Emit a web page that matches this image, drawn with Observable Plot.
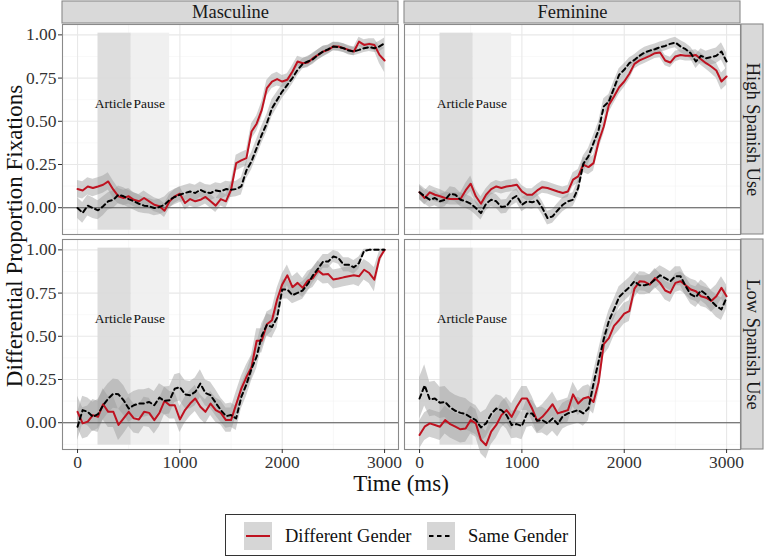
<!DOCTYPE html>
<html><head><meta charset="utf-8">
<script src="https://cdn.jsdelivr.net/npm/d3@7"></script>
<script src="https://cdn.jsdelivr.net/npm/@observablehq/plot@0.6"></script>
<style>
body{margin:0;background:#fff;font-family:"Liberation Serif","Times New Roman",serif;color:#111;}
#wrap{position:relative;width:765px;height:559px;overflow:hidden;}
#wrap svg text{font-family:"Liberation Serif","Times New Roman",serif;}
.ttl{position:absolute;font-size:23px;line-height:1;white-space:nowrap;color:#111;}
#legend{position:absolute;left:225px;top:514px;width:351px;height:42px;border:1px solid #333;box-sizing:border-box;}
#legend .key{position:absolute;top:7px;width:28px;height:28px;}
#legend .lab{position:absolute;top:8px;font-size:18.5px;line-height:26px;white-space:nowrap;color:#111;}
</style></head><body>
<div id="wrap"></div>
<script>
// ---------- data ----------
const genders = ["Masculine", "Feminine"];
const spanishUse = ["High Spanish Use", "Low Spanish Use"];
const groups = ["Different Gender", "Same Gender"];
const xTicks = [0, 1000, 2000, 3000];
const xMinor = [500, 1500, 2500];
const yTicks = [0, 0.25, 0.5, 0.75, 1];
const yMinor = [-0.125, 0.125, 0.375, 0.625, 0.875];
const phaseNames = ["Article", "Pause"];
const phaseStart = [200, 525];
const phaseEnd = [525, 900];
const phaseLabelX = [350, 700];
const phaseLabelY = 0.6;
const phaseYmin = -0.13;
const phaseYmax = 1.01;

const times = [0,50,100,150,200,250,300,350,400,450,500,550,600,650,700,750,800,850,900,950,
1000,1050,1100,1150,1200,1250,1300,1350,1400,1450,1500,1550,1600,1650,1700,1750,1800,1850,1900,1950,
2000,2050,2100,2150,2200,2250,2300,2350,2400,2450,2500,2550,2600,2650,2700,2750,2800,2850,2900,2950,3000];

const mascHighDiff = [0.108,0.100,0.123,0.114,0.123,0.133,0.152,0.104,0.066,0.056,
0.066,0.046,0.037,0.056,0.037,0.017,0.008,-0.017,0.037,0.066,
0.081,0.027,0.050,0.037,0.046,0.062,0.037,0.012,0.050,0.037,
0.104,0.258,0.274,0.287,0.441,0.486,0.566,0.692,0.730,0.744,
0.730,0.740,0.788,0.846,0.836,0.840,0.865,0.884,0.904,0.913,
0.933,0.933,0.923,0.913,0.904,0.961,0.942,0.948,0.942,0.884,0.852];
const mascHighSame = [-0.002,-0.030,0.012,-0.002,-0.015,0.008,0.037,0.046,0.075,0.066,
0.050,0.037,0.023,0.012,0.008,-0.002,0.004,0.017,0.046,0.062,
0.075,0.085,0.094,0.085,0.104,0.089,0.085,0.100,0.094,0.108,
0.104,0.108,0.123,0.216,0.268,0.345,0.422,0.489,0.576,0.624,
0.672,0.711,0.750,0.798,0.832,0.846,0.859,0.884,0.904,0.917,
0.933,0.929,0.923,0.909,0.904,0.913,0.923,0.929,0.923,0.933,0.952];
const femHighDiff = [0.089,0.056,0.089,0.075,0.066,0.056,0.050,0.050,0.050,0.100,
0.139,0.066,0.023,0.075,0.108,0.123,0.114,0.123,0.127,0.133,
0.094,0.075,0.075,0.100,0.119,0.114,0.104,0.094,0.085,0.094,
0.162,0.181,0.249,0.235,0.258,0.383,0.470,0.595,0.644,0.697,
0.730,0.775,0.832,0.852,0.865,0.879,0.894,0.898,0.852,0.840,
0.875,0.884,0.879,0.879,0.884,0.859,0.836,0.817,0.794,0.730,0.759];
const femHighSame = [0.089,0.066,0.046,0.056,0.037,0.046,0.081,0.075,0.046,0.037,
0.023,-0.002,-0.031,0.023,0.046,0.037,0.004,0.008,0.050,0.069,
0.017,0.037,0.031,0.042,-0.002,-0.060,-0.050,-0.015,0.017,0.037,
0.046,0.114,0.254,0.297,0.374,0.451,0.586,0.615,0.692,0.769,
0.798,0.836,0.855,0.879,0.898,0.909,0.917,0.929,0.936,0.948,
0.956,0.933,0.917,0.894,0.846,0.879,0.865,0.871,0.879,0.904,0.846];
const mascLowDiff = [0.063,-0.004,0.006,0.044,0.034,0.107,0.063,0.063,-0.013,0.025,
0.063,0.025,0.019,0.063,0.057,0.015,0.057,0.126,0.101,0.101,
0.019,0.073,0.111,0.140,0.092,0.063,0.111,0.073,0.057,0.015,
0.015,0.107,0.197,0.264,0.321,0.474,0.474,0.570,0.593,0.713,
0.800,0.853,0.784,0.809,0.780,0.822,0.837,0.880,0.857,0.860,
0.828,0.834,0.841,0.847,0.853,0.847,0.885,0.866,0.828,0.952,1.000];
const mascLowSame = [-0.023,0.073,0.063,0.034,0.050,0.101,0.140,0.168,0.164,0.130,
0.082,0.101,0.111,0.111,0.120,0.101,0.145,0.126,0.130,0.197,
0.206,0.164,0.159,0.178,0.226,0.172,0.159,0.115,0.073,0.038,
0.044,0.025,0.149,0.222,0.312,0.382,0.503,0.566,0.554,0.608,
0.771,0.771,0.738,0.751,0.765,0.803,0.853,0.891,0.933,0.933,
0.962,0.952,0.914,0.914,0.899,0.924,0.994,1.000,1.000,1.000,1.000];
const femLowDiff = [-0.071,-0.023,-0.004,-0.013,-0.023,0.015,-0.008,-0.023,-0.038,-0.033,
0.015,-0.004,-0.100,-0.130,-0.052,-0.013,0.044,0.073,0.034,0.092,
0.140,0.140,0.082,0.011,0.034,0.069,0.107,0.054,0.063,0.073,
0.164,0.111,0.140,0.149,0.120,0.235,0.455,0.489,0.560,0.593,
0.631,0.646,0.776,0.818,0.815,0.799,0.837,0.809,0.765,0.751,
0.809,0.818,0.795,0.771,0.761,0.732,0.723,0.704,0.732,0.780,0.732];
const femLowSame = [0.140,0.216,0.134,0.140,0.115,0.120,0.088,0.069,0.057,0.050,
0.031,0.015,-0.027,-0.004,0.050,0.082,0.073,0.044,-0.013,-0.008,
-0.019,0.054,0.054,0.011,0.015,-0.004,0.025,-0.008,0.038,0.054,
0.063,0.073,0.054,0.082,0.226,0.356,0.484,0.589,0.656,0.727,
0.757,0.784,0.818,0.795,0.795,0.803,0.828,0.853,0.837,0.818,
0.847,0.847,0.790,0.742,0.727,0.765,0.742,0.704,0.675,0.656,0.723];

// confidence half-widths (ribbons)
const ciMascHighDiff = [0.05,0.05,0.05,0.05,0.05,0.05,0.05,0.05,0.045,0.045,
0.045,0.04,0.04,0.04,0.04,0.04,0.04,0.04,0.04,0.04,
0.04,0.04,0.04,0.04,0.04,0.04,0.04,0.04,0.04,0.04,
0.04,0.045,0.045,0.045,0.045,0.045,0.045,0.045,0.04,0.04,
0.035,0.035,0.035,0.03,0.03,0.03,0.03,0.03,0.03,0.025,
0.025,0.025,0.025,0.025,0.025,0.025,0.03,0.03,0.035,0.05,0.07];
const ciMascHighSame = [0.06,0.06,0.06,0.06,0.055,0.055,0.05,0.05,0.05,0.05,
0.05,0.05,0.05,0.045,0.045,0.045,0.045,0.045,0.045,0.045,
0.045,0.045,0.045,0.045,0.045,0.045,0.045,0.045,0.045,0.045,
0.045,0.045,0.05,0.05,0.05,0.05,0.05,0.05,0.05,0.045,
0.04,0.04,0.035,0.035,0.03,0.03,0.03,0.03,0.03,0.025,
0.025,0.025,0.025,0.025,0.025,0.025,0.025,0.025,0.025,0.03,0.03];
const ciFemHighDiff = [0.04,0.04,0.04,0.04,0.04,0.035,0.035,0.035,0.035,0.04,
0.045,0.04,0.04,0.035,0.035,0.035,0.035,0.035,0.035,0.035,
0.035,0.035,0.035,0.035,0.035,0.035,0.035,0.035,0.035,0.035,
0.04,0.04,0.045,0.045,0.045,0.045,0.045,0.045,0.04,0.04,
0.035,0.035,0.03,0.03,0.03,0.03,0.03,0.03,0.03,0.03,
0.03,0.03,0.03,0.03,0.03,0.035,0.035,0.04,0.045,0.05,0.05];
const ciFemHighSame = [0.045,0.045,0.045,0.045,0.04,0.04,0.04,0.04,0.04,0.04,
0.04,0.04,0.04,0.04,0.04,0.04,0.04,0.04,0.04,0.04,
0.04,0.04,0.04,0.04,0.04,0.04,0.04,0.04,0.04,0.04,
0.04,0.045,0.045,0.045,0.045,0.045,0.045,0.04,0.04,0.035,
0.035,0.03,0.03,0.03,0.03,0.03,0.03,0.03,0.03,0.03,
0.03,0.035,0.035,0.035,0.04,0.04,0.04,0.045,0.045,0.05,0.05];
const ciMascLowDiff = [0.09,0.09,0.09,0.09,0.09,0.09,0.09,0.09,0.09,0.09,
0.085,0.085,0.085,0.085,0.085,0.08,0.08,0.08,0.08,0.08,
0.075,0.075,0.075,0.075,0.07,0.07,0.07,0.07,0.07,0.07,
0.07,0.07,0.07,0.07,0.07,0.07,0.07,0.07,0.065,0.065,
0.06,0.06,0.06,0.06,0.055,0.055,0.055,0.055,0.055,0.055,
0.055,0.055,0.055,0.055,0.055,0.06,0.06,0.06,0.07,0.04,0.01];
const ciMascLowSame = [0.08,0.08,0.08,0.085,0.085,0.085,0.085,0.085,0.085,0.085,
0.08,0.08,0.08,0.08,0.08,0.08,0.08,0.08,0.08,0.08,
0.08,0.08,0.08,0.08,0.08,0.075,0.075,0.075,0.07,0.07,
0.07,0.07,0.07,0.07,0.07,0.07,0.07,0.065,0.065,0.06,
0.055,0.055,0.05,0.05,0.05,0.045,0.045,0.045,0.04,0.04,
0.035,0.035,0.04,0.04,0.04,0.035,0.01,0.005,0.005,0.005,0.005];
const ciFemLowDiff = [0.08,0.08,0.08,0.08,0.08,0.08,0.08,0.08,0.08,0.08,
0.08,0.08,0.08,0.08,0.075,0.075,0.075,0.075,0.075,0.07,
0.07,0.07,0.07,0.07,0.07,0.07,0.07,0.07,0.07,0.07,
0.07,0.07,0.07,0.07,0.07,0.065,0.065,0.06,0.06,0.06,
0.06,0.06,0.055,0.055,0.055,0.055,0.055,0.055,0.055,0.055,
0.055,0.055,0.055,0.06,0.06,0.06,0.06,0.065,0.065,0.065,0.065];
const ciFemLowSame = [0.12,0.12,0.1,0.1,0.09,0.09,0.09,0.09,0.09,0.09,
0.085,0.085,0.085,0.08,0.08,0.08,0.08,0.08,0.08,0.08,
0.08,0.08,0.075,0.075,0.075,0.075,0.075,0.075,0.075,0.075,
0.075,0.075,0.075,0.07,0.065,0.065,0.065,0.06,0.06,0.06,
0.055,0.055,0.055,0.055,0.055,0.055,0.055,0.055,0.055,0.055,
0.055,0.055,0.055,0.055,0.06,0.06,0.06,0.06,0.065,0.065,0.065];

// ---------- build tables ----------
const series = [
  {sex: genders[0], use: spanishUse[0], group: groups[0], v: mascHighDiff, ci: ciMascHighDiff},
  {sex: genders[0], use: spanishUse[0], group: groups[1], v: mascHighSame, ci: ciMascHighSame},
  {sex: genders[1], use: spanishUse[0], group: groups[0], v: femHighDiff, ci: ciFemHighDiff},
  {sex: genders[1], use: spanishUse[0], group: groups[1], v: femHighSame, ci: ciFemHighSame},
  {sex: genders[0], use: spanishUse[1], group: groups[0], v: mascLowDiff, ci: ciMascLowDiff},
  {sex: genders[0], use: spanishUse[1], group: groups[1], v: mascLowSame, ci: ciMascLowSame},
  {sex: genders[1], use: spanishUse[1], group: groups[0], v: femLowDiff, ci: ciFemLowDiff},
  {sex: genders[1], use: spanishUse[1], group: groups[1], v: femLowSame, ci: ciFemLowSame}
];
const rows = series.flatMap(s => times.map((t, i) => ({
  t, sex: s.sex, use: s.use, group: s.group, v: s.v[i], lo: s.v[i] - s.ci[i], hi: s.v[i] + s.ci[i]
})));
const phases = phaseNames.map((p, i) => ({phase: p, start: phaseStart[i], end: phaseEnd[i],
  lx: phaseLabelX[i], ly: phaseLabelY, ymin: phaseYmin, ymax: phaseYmax}));
const topStrips = genders.map(g => ({sex: g, use: spanishUse[0]}));
const rightStrips = spanishUse.map(u => ({sex: genders[1], use: u}));

// ---------- layout ----------
const W = 765, H = 505;
const mL = 62, mR = 25, mT = 24, mB = 56;
const panelW = 336, gapX = 6, panelH = 210, gapY = 5;
const red = "#bf1220";
const FONT = "'Liberation Serif', 'Times New Roman', serif";

const plot = Plot.plot({
  width: W, height: H,
  marginLeft: mL, marginRight: mR, marginTop: mT, marginBottom: mB,
  style: `font-family: ${FONT}; background: #fff; color: #111;`,
  x: {domain: [-147, 3136]},
  y: {domain: [-0.155, 1.06]},
  fx: {domain: genders, paddingInner: gapX / (panelW + gapX), paddingOuter: 0, round: false, axis: null},
  fy: {domain: spanishUse, paddingInner: gapY / (panelH + gapY), paddingOuter: 0, round: false, axis: null},
  marks: [
    Plot.gridX({ticks: xMinor, stroke: "#f4f4f4", strokeOpacity: 1, strokeWidth: 0.6}),
    Plot.gridY({ticks: yMinor, stroke: "#f4f4f4", strokeOpacity: 1, strokeWidth: 0.6}),
    Plot.gridX({ticks: xTicks, stroke: "#e8e8e8", strokeOpacity: 1, strokeWidth: 1.1}),
    Plot.gridY({ticks: yTicks, stroke: "#e8e8e8", strokeOpacity: 1, strokeWidth: 1.1}),
    Plot.rect(phases, {x1: "start", x2: "end", y1: "ymin", y2: "ymax",
      fill: d => d.phase === "Article" ? "#d9d9d9" : "#eeeeee", fillOpacity: 0.9}),
    Plot.text(phases, {x: "lx", y: "ly", text: "phase", fontSize: 13.5, fill: "#111", fontFamily: FONT}),
    Plot.areaY(rows, {x: "t", y1: "lo", y2: "hi", z: "group", fx: "sex", fy: "use",
      fill: "#9a9a9a", fillOpacity: 0.45}),
    Plot.ruleY([0], {stroke: "#555", strokeWidth: 1.1}),
    Plot.lineY(rows.filter(d => d.group === groups[0]), {x: "t", y: "v", fx: "sex", fy: "use",
      stroke: red, strokeWidth: 2}),
    Plot.lineY(rows.filter(d => d.group === groups[1]), {x: "t", y: "v", fx: "sex", fy: "use",
      stroke: "#000", strokeWidth: 2, strokeDasharray: "4.5,3.5"}),
    Plot.frame({stroke: "#8a8a8a", strokeWidth: 1.1}),
    Plot.rect(topStrips, {fx: "sex", fy: "use", fill: "#d9d9d9", stroke: "#8a8a8a", strokeWidth: 1.1,
      insetTop: -23, insetBottom: panelH + 1}),
    Plot.text(topStrips, {fx: "sex", fy: "use", text: "sex", frameAnchor: "top", dy: -12,
      lineAnchor: "middle", textAnchor: "middle", fontSize: 18.5, fill: "#1a1a1a", fontFamily: FONT}),
    Plot.rect(rightStrips, {fx: "sex", fy: "use", fill: "#d9d9d9", stroke: "#8a8a8a", strokeWidth: 1.1,
      insetLeft: panelW + 1, insetRight: -23}),
    Plot.text(rightStrips, {fx: "sex", fy: "use", text: "use", frameAnchor: "right", dx: 12, rotate: 90,
      lineAnchor: "middle", textAnchor: "middle", fontSize: 18.5, fill: "#1a1a1a", fontFamily: FONT}),
    Plot.axisX({ticks: xTicks, tickFormat: d => String(d), tickSize: 4, tickPadding: 2, fontSize: 17.5,
      fontFamily: FONT, label: null, color: "#333"}),
    Plot.axisY({ticks: yTicks, tickFormat: d3.format(".2f"), tickSize: 4, tickPadding: 2,
      fontSize: 17.5, fontFamily: FONT, label: null, color: "#333"})
  ]
});

const wrap = document.getElementById("wrap");
wrap.appendChild(plot);

// axis titles
const yt = document.createElement("div");
yt.className = "ttl";
yt.textContent = "Differential Proportion Fixations";
yt.style.left = "14px"; yt.style.top = "236px";
yt.style.transform = "translate(-50%,-50%) rotate(-90deg)";
wrap.appendChild(yt);
const xt = document.createElement("div");
xt.className = "ttl";
xt.textContent = "Time (ms)";
xt.style.left = "401px"; xt.style.top = "483px";
xt.style.transform = "translate(-50%,-50%)";
wrap.appendChild(xt);

// legend
const lg = document.createElement("div");
lg.id = "legend";
lg.innerHTML =
  `<svg class="key" style="left:18px" viewBox="0 0 28 28"><rect width="28" height="28" fill="#d6d6d6"/>` +
  `<line x1="2" x2="26" y1="14" y2="14" stroke="${red}" stroke-width="2"/></svg>` +
  `<div class="lab" style="left:59px">${groups[0]}</div>` +
  `<svg class="key" style="left:201px" viewBox="0 0 28 28"><rect width="28" height="28" fill="#d6d6d6"/>` +
  `<line x1="2" x2="26" y1="14" y2="14" stroke="#000" stroke-width="2" stroke-dasharray="4.5,3.5"/></svg>` +
  `<div class="lab" style="left:242px">${groups[1]}</div>`;
wrap.appendChild(lg);
</script>
</body></html>
